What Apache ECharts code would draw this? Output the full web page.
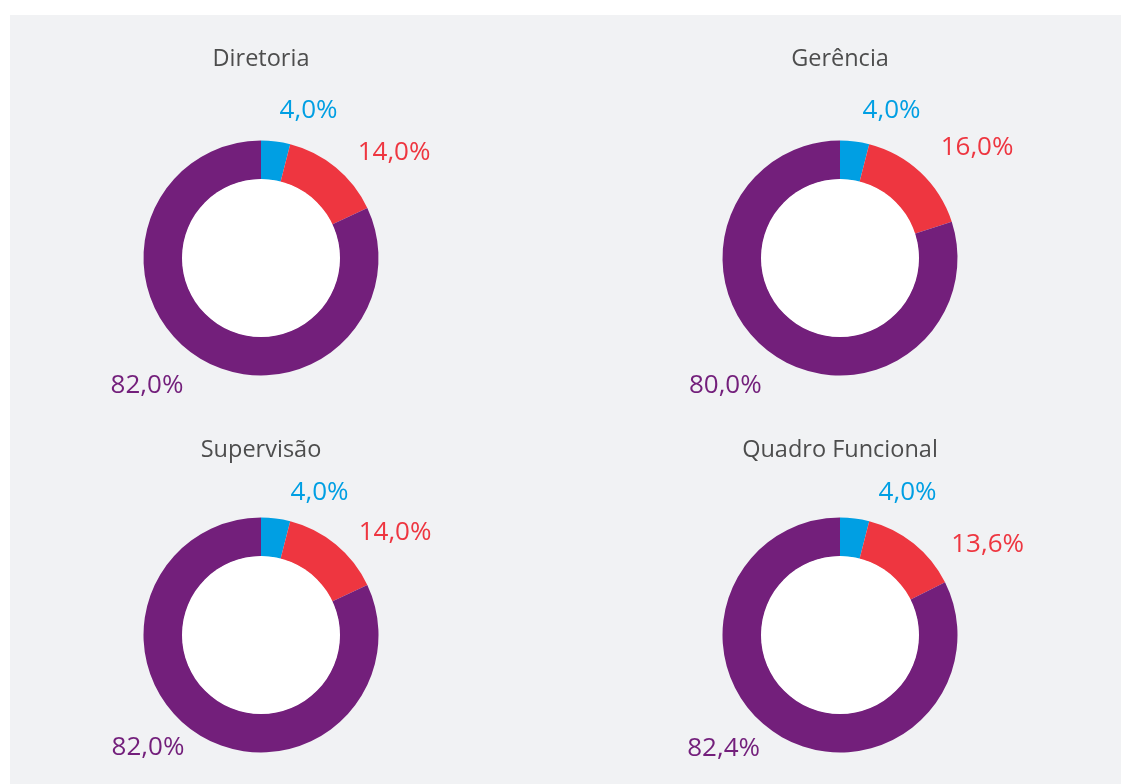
<!DOCTYPE html>
<html>

<head>
    <meta charset="utf-8" />
    <script src="https://cdn.jsdelivr.net/npm/echarts@6/dist/echarts.min.js"></script>
</head>

<body>
    <style>
        html,
        body {
            margin: 0;
            background: #fff;
        }

        #main {
            width: 1122px;
            height: 784px;
        }
    </style>
    <div id="main"></div>

    <script type="text/javascript">
        // categories / series, one donut per group
        const slices = ['Azul', 'Vermelho', 'Roxo'];
        const groups = ['Diretoria', 'Gerência', 'Supervisão', 'Quadro Funcional'];
        const diretoria = [4.0, 14.0, 82.0];
        const gerencia = [4.0, 16.0, 80.0];
        const supervisao = [4.0, 14.0, 82.0];
        const quadroFuncional = [4.0, 13.6, 82.4];
        const values = [diretoria, gerencia, supervisao, quadroFuncional];

        const colors = ['#009fe3', '#ee3640', '#731f7b'];
        const centers = [[261, 258], [840, 258], [261, 635], [840, 635]];
        const titleTops = [47, 47, 438, 438];
        // nudges for the percentage labels, per donut, per slice
        const labelNudge = [
            [[-5, 0], [-3, 9], [7, 2]],
            [[-1, 0], [-6, -2], [14, 7]],
            [[6, 5], [-2, 12], [8, -13]],
            [[15, 5], [13, 25], [3, -13]],
        ];

        const fmt = (v) => v.toFixed(1).replace('.', ',') + '%';

        var chart = echarts.init(document.getElementById('main'), null, { renderer: 'canvas' });

        var series = [];
        values.forEach(function (vals, i) {
            series.push({
                type: 'pie',
                name: groups[i],
                center: centers[i],
                radius: [78.5, 117.5],
                startAngle: 90,
                clockwise: true,
                avoidLabelOverlap: false,
                silent: true,
                label: {
                    show: true,
                    position: 'outside',
                    color: 'inherit',
                    fontFamily: 'Open Sans',
                    fontSize: 26,
                    formatter: (p) => fmt(p.value),
                },
                labelLine: { show: false, length: 31, length2: 0 },
                labelLayout: (p) => ({
                    dx: labelNudge[i][p.dataIndex][0],
                    dy: labelNudge[i][p.dataIndex][1],
                }),
                data: vals.map((v, k) => ({
                    name: slices[k],
                    value: v,
                    itemStyle: { color: colors[k] },
                })),
            });
            // white hole in the middle
            series.push({
                type: 'pie',
                center: centers[i],
                radius: [0, 79],
                silent: true,
                label: { show: false },
                labelLine: { show: false },
                itemStyle: { color: '#ffffff' },
                data: [{ value: 1, name: 'hole' }],
            });
        });

        chart.setOption({
            animation: false,
            backgroundColor: '#ffffff',
            graphic: [
                {
                    type: 'rect',
                    z: -10,
                    shape: { x: 10, y: 15, width: 1111, height: 769 },
                    style: { fill: '#f1f2f4' },
                    silent: true,
                }
            ],
            title: groups.map((g, i) => ({
                text: g,
                left: centers[i][0],
                top: titleTops[i],
                padding: 0,
                textAlign: 'center',
                textStyle: {
                    color: '#4d4d4d',
                    fontFamily: 'Open Sans',
                    fontWeight: 'normal',
                    fontSize: 23.5,
                },
            })),
            series: series,
        });
    </script>
</body>

</html>
